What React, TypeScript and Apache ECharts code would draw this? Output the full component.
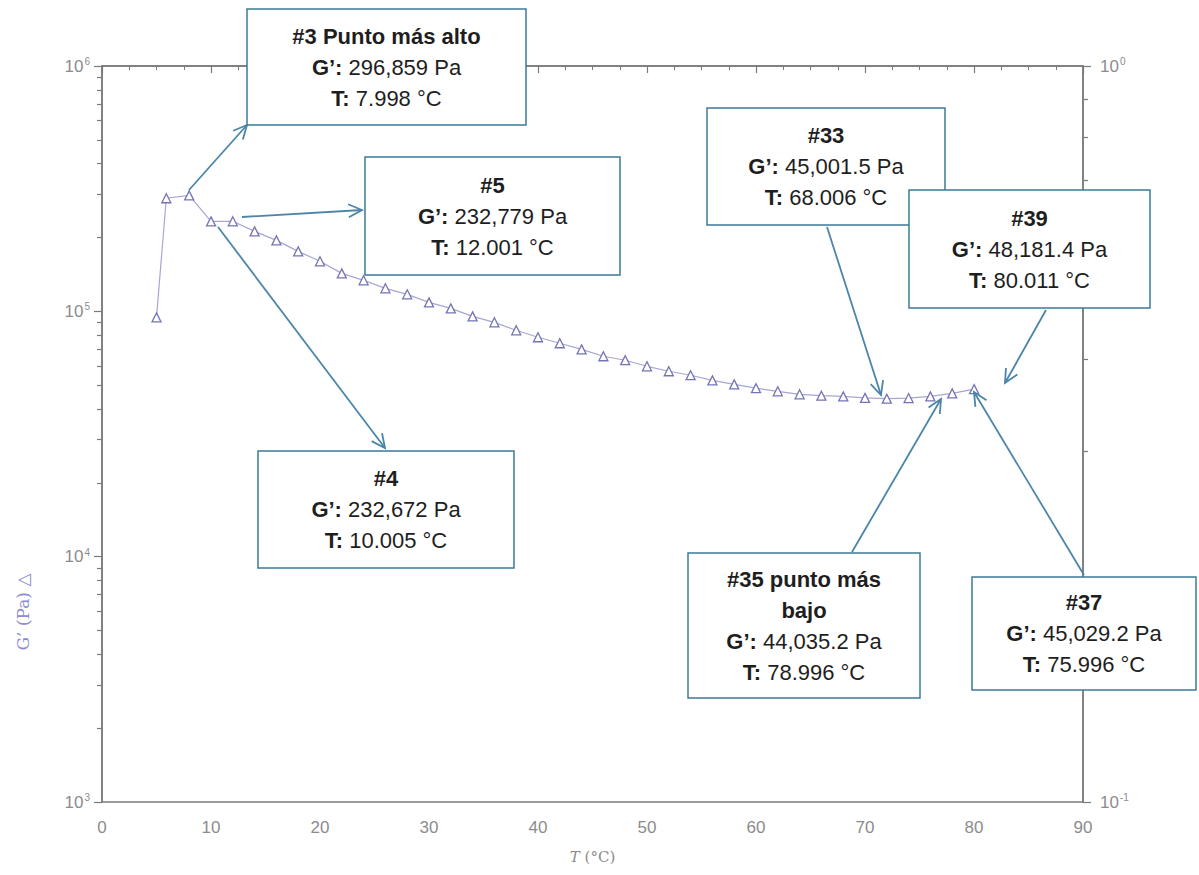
import { useEffect, useRef } from "react";
import * as echarts from "echarts";

// Temperature sweep (°C) and storage modulus G' (Pa), points #1 … #39
const temperature = [
  5.0, 5.9, 7.998, 10.005, 12.001, 14, 16, 18, 20, 22, 24, 26, 28, 30, 32, 34, 36, 38, 40, 42,
  44, 46, 48, 50, 52, 54, 56, 58, 60, 62, 64, 66, 68.006, 70, 72, 74, 75.996, 78, 80.011,
];
const storageModulus = [
  94500, 289000, 296859, 232672, 232779, 211800, 194700, 175600, 159900, 142800, 133800,
  124100, 117300, 108800, 102800, 95400, 90200, 83700, 78400, 74100, 70000, 65600, 63200,
  59700, 57000, 54900, 52300, 50400, 48600, 47200, 45900, 45300, 45001.5, 44400, 44035.2,
  44300, 45029.2, 46300, 48181.4,
];

// Axis ranges
const xRange = [0, 90];
const leftRange = [1e3, 1e6];
const rightRange = [0.1, 1];
const minorMultipliers = [2, 3, 4, 5, 6, 7, 8, 9];

// Callout texts
const calloutTitles = [
  ["#3 Punto más alto"],
  ["#5"],
  ["#4"],
  ["#33"],
  ["#39"],
  ["#35 punto más", "bajo"],
  ["#37"],
];
const calloutModulus = ["296,859", "232,779", "232,672", "45,001.5", "48,181.4", "44,035.2", "45,029.2"];
const calloutTemperature = ["7.998", "12.001", "10.005", "68.006", "80.011", "78.996", "75.996"];

// Callout layout: box [x, y, w, h] and arrow [x1, y1, x2, y2] (head at x2, y2)
const calloutLayout = [
  { box: [247, 9, 279, 116], arrow: [189, 190, 247, 125] },
  { box: [365, 157, 255, 118], arrow: [242, 217, 362, 210] },
  { box: [258, 451, 256, 117], arrow: [218, 227, 385, 448] },
  { box: [707, 108, 238, 117], arrow: [827, 227, 881, 395] },
  { box: [909, 190, 241, 118], arrow: [1046, 310, 1005, 383] },
  { box: [688, 553, 232, 145], arrow: [852, 552, 941, 399] },
  { box: [972, 577, 224, 113], arrow: [1084, 575, 974, 392] },
];

const FONT = "Liberation Sans, Arial, sans-serif";
const AXIS_COLOR = "#7a7a7a";
const LABEL_COLOR = "#8c8c8c";
const ARROW_COLOR = "#4b86aa";
const BOX_COLOR = "#3d7b98";

function minorLogPositions(lo: number, hi: number) {
  const out: number[] = [];
  for (let e = Math.round(Math.log10(lo)); e < Math.round(Math.log10(hi)); e++) {
    for (const m of minorMultipliers) out.push(Math.log10(m) + e);
  }
  return out;
}

const expLabel = (v: number) => `{b|10}{s|${Math.round(Math.log10(v))}}`;
const expRich = {
  b: { fontSize: 17, color: LABEL_COLOR, fontFamily: FONT },
  s: { fontSize: 10, color: LABEL_COLOR, fontFamily: FONT, padding: [0, 0, 9, 1] },
};

function arrow(x1: number, y1: number, x2: number, y2: number) {
  const ang = Math.atan2(y2 - y1, x2 - x1);
  const len = 15;
  const spread = Math.PI / 7;
  const p1 = [x2 - len * Math.cos(ang - spread), y2 - len * Math.sin(ang - spread)];
  const p2 = [x2 - len * Math.cos(ang + spread), y2 - len * Math.sin(ang + spread)];
  return [
    {
      type: "line",
      z: 100,
      shape: { x1, y1, x2, y2 },
      style: { stroke: ARROW_COLOR, lineWidth: 1.8 },
    },
    {
      type: "polyline",
      z: 100,
      shape: { points: [p1, [x2, y2], p2] },
      style: { stroke: ARROW_COLOR, lineWidth: 1.8, fill: null },
    },
  ];
}

function buildCallouts() {
  const els: any[] = [];
  calloutLayout.forEach((c, i) => {
    const [bx, by, bw, bh] = c.box;
    els.push(...arrow(c.arrow[0], c.arrow[1], c.arrow[2], c.arrow[3]));
    els.push({
      type: "rect",
      z: 101,
      shape: { x: bx, y: by, width: bw, height: bh },
      style: { fill: "#ffffff", stroke: BOX_COLOR, lineWidth: 1.5 },
    });
    const lines = [
      ...calloutTitles[i].map((t) => `{b|${t}}`),
      `{b|G’:} ${calloutModulus[i]} Pa`,
      `{b|T:} ${calloutTemperature[i]} °C`,
    ];
    els.push({
      type: "text",
      z: 102,
      x: bx + bw / 2,
      y: by + bh / 2,
      style: {
        text: lines.join("\n"),
        align: "center",
        verticalAlign: "middle",
        fontSize: 22,
        lineHeight: 31,
        fontFamily: FONT,
        fill: "#1e1e1e",
        rich: {
          b: { fontSize: 22, fontWeight: "bold", fontFamily: FONT, lineHeight: 31, color: "#1e1e1e" },
        },
      },
    });
  });
  return els;
}

const minorTickAxis = (range: number[], position: string) => ({
  type: "value",
  min: Math.log10(range[0]),
  max: Math.log10(range[1]),
  position,
  axisLine: { show: false },
  axisTick: {
    show: true,
    length: 5,
    customValues: minorLogPositions(range[0], range[1]),
    lineStyle: { color: AXIS_COLOR, width: 1.2 },
  },
  axisLabel: { show: false },
  splitLine: { show: false },
});

export default function App() {
  const ref = useRef<HTMLDivElement>(null);

  useEffect(() => {
    document.body.style.margin = "0";
    if (!ref.current) return;
    const chart = echarts.init(ref.current, undefined, { renderer: "svg" });

    const option: any = {
      animation: false,
      backgroundColor: "#ffffff",
      grid: {
        left: 102,
        right: 116,
        top: 66,
        bottom: 73,
        show: true,
        borderColor: AXIS_COLOR,
        borderWidth: 1.5,
        backgroundColor: "transparent",
      },
      xAxis: {
        type: "value",
        min: xRange[0],
        max: xRange[1],
        interval: 10,
        name: "{i|T} (°C)",
        nameLocation: "middle",
        nameGap: 47,
        nameTextStyle: {
          color: LABEL_COLOR,
          fontSize: 15,
          fontFamily: "DejaVu Serif, serif",
          rich: { i: { fontStyle: "italic", fontSize: 15, color: LABEL_COLOR, fontFamily: "DejaVu Serif, serif" } },
        },
        axisLine: { lineStyle: { color: AXIS_COLOR, width: 1.5 } },
        axisTick: { length: 7, lineStyle: { color: AXIS_COLOR, width: 1.2 } },
        minorTick: { show: true, splitNumber: 4, length: 4, lineStyle: { color: AXIS_COLOR, width: 1 } },
        axisLabel: { color: LABEL_COLOR, fontSize: 17, fontFamily: FONT, margin: 17 },
        splitLine: { show: false },
      },
      yAxis: [
        {
          type: "log",
          logBase: 10,
          min: leftRange[0],
          max: leftRange[1],
          position: "left",
          axisLine: { show: true, lineStyle: { color: AXIS_COLOR, width: 1.5 } },
          axisTick: { show: true, length: 8, lineStyle: { color: AXIS_COLOR, width: 1.2 } },
          axisLabel: { formatter: expLabel, rich: expRich, margin: 12 },
          splitLine: { show: false },
        },
        {
          type: "log",
          logBase: 10,
          min: rightRange[0],
          max: rightRange[1],
          position: "right",
          axisLine: { show: true, lineStyle: { color: AXIS_COLOR, width: 1.5 } },
          axisTick: { show: true, length: 8, lineStyle: { color: AXIS_COLOR, width: 1.2 } },
          axisLabel: { formatter: expLabel, rich: expRich, margin: 17 },
          splitLine: { show: false },
        },
        minorTickAxis(leftRange, "left"),
        minorTickAxis(rightRange, "right"),
      ],
      series: [
        {
          type: "line",
          xAxisIndex: 0,
          yAxisIndex: 0,
          data: temperature.map((t, i) => [t, storageModulus[i]]),
          symbol: "triangle",
          symbolSize: 9,
          showAllSymbol: true,
          itemStyle: { color: "#ffffff", borderColor: "#7474b4", borderWidth: 1.3 },
          lineStyle: { color: "#a6a6d6", width: 1.2 },
          z: 3,
        },
      ],
      graphic: [
        {
          type: "text",
          x: 23,
          y: 612,
          rotation: Math.PI / 2,
          style: {
            text: "G’ (Pa) △",
            align: "center",
            verticalAlign: "middle",
            fontSize: 17,
            fontFamily: "DejaVu Serif, serif",
            fill: "#8c8cd2",
          },
        },
        ...buildCallouts(),
      ],
    };

    chart.setOption(option);
    return () => chart.dispose();
  }, []);

  return <div ref={ref} style={{ width: 1199, height: 875, overflow: "hidden" }} />;
}
